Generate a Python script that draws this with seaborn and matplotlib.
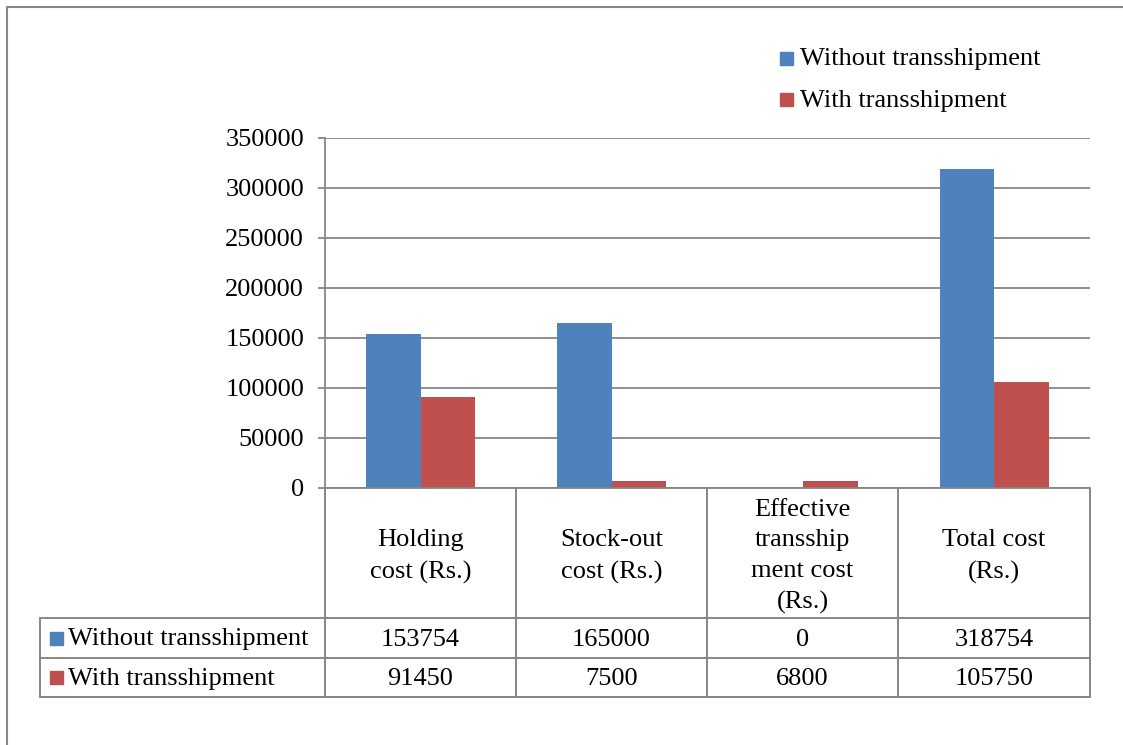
import matplotlib
matplotlib.use("Agg")
import matplotlib.pyplot as plt
import seaborn as sns
import pandas as pd
from matplotlib.lines import Line2D
from matplotlib.patches import Rectangle

# ---- data ----
categories = ["Holding\ncost (Rs.)", "Stock-out\ncost (Rs.)",
              "Effective\ntransship\nment cost\n(Rs.)", "Total cost\n(Rs.)"]
series_names = ["Without transshipment", "With transshipment"]
without_transshipment = [153754, 165000, 0, 318754]
with_transshipment = [91450, 7500, 6800, 105750]
y_ticks = [0, 50000, 100000, 150000, 200000, 250000, 300000, 350000]

colors = ["#4F81BD", "#C0504D"]
grid_color = "#868686"
FONT = "Liberation Serif"
FS = 19

df = pd.DataFrame({
    "category": categories * 2,
    "series": [series_names[0]] * 4 + [series_names[1]] * 4,
    "value": without_transshipment + with_transshipment,
})

sns.set_theme(style="white")
plt.rcParams["font.family"] = [FONT, "DejaVu Sans"]

W, H = 1123, 745
fig = plt.figure(figsize=(W / 100, H / 100), dpi=100)


def fx(x):
    return x / W


def fy(y):
    return 1 - y / H


# overlay working in pixel coordinates for the frame and data table
ov = fig.add_axes([0, 0, 1, 1], zorder=0)
ov.set_xlim(0, W)
ov.set_ylim(H, 0)
ov.axis("off")

# plot area
L, R, T, B = 325, 1090, 138, 488
ax = fig.add_axes([fx(L), fy(B), fx(R) - fx(L), fy(T) - fy(B)], zorder=1)
ax.patch.set_alpha(0)

sns.barplot(data=df, x="category", y="value", hue="series",
            order=categories, hue_order=series_names,
            palette=colors, width=0.57, saturation=1,
            edgecolor="none", linewidth=0, ax=ax, legend=False)

ax.set_xlim(-0.5, 3.5)
ax.set_ylim(0, 350000)
ax.set_yticks(y_ticks)
ax.set_yticklabels([str(v) for v in y_ticks], fontsize=FS, family=FONT)
ax.set_xticks([])
ax.set_xlabel("")
ax.set_ylabel("")
ax.yaxis.grid(True, color=grid_color, linewidth=1.3)
ax.set_axisbelow(True)
for s in ["top", "right"]:
    ax.spines[s].set_visible(False)
for s in ["left", "bottom"]:
    ax.spines[s].set_color(grid_color)
    ax.spines[s].set_linewidth(1.3)
ax.tick_params(axis="y", which="major", length=5, width=1.3,
               color=grid_color, pad=10, left=True, labelcolor="black")

# outer frame (top and left edges)
lc = dict(color=grid_color, linewidth=1.5)
ov.add_line(Line2D([7, W], [7, 7], **lc))
ov.add_line(Line2D([7, 7], [7, H], **lc))

# legend
leg_y = [58, 99]
for i, name in enumerate(series_names):
    ov.add_patch(Rectangle((780, leg_y[i] - 6.5), 13, 13, color=colors[i]))
    ov.text(800, leg_y[i] + 1.5, name, fontsize=FS, family=FONT,
            va="center", ha="left", color="black")

# data table
col_x = [325, 516, 707, 898, 1090]
row_y = [488, 618, 658, 697]
tl = dict(color=grid_color, linewidth=1.4)
for x in col_x:
    ov.add_line(Line2D([x, x], [row_y[0], row_y[-1]], **tl))
ov.add_line(Line2D([40, 40], [row_y[1], row_y[-1]], **tl))
for y in row_y[1:]:
    ov.add_line(Line2D([40, col_x[-1]], [y, y], **tl))

for j, cat in enumerate(categories):
    cx = (col_x[j] + col_x[j + 1]) / 2
    ov.text(cx, (row_y[0] + row_y[1]) / 2 + 3.5, cat, fontsize=FS, family=FONT,
            ha="center", va="center", linespacing=1.52, color="black")

rows = [without_transshipment, with_transshipment]
for i, vals in enumerate(rows):
    cy = (row_y[i + 1] + row_y[i + 2]) / 2
    ov.add_patch(Rectangle((50, cy - 6.5), 13, 13, color=colors[i]))
    ov.text(68, cy + 1.5, series_names[i], fontsize=FS, family=FONT,
            ha="left", va="center", color="black")
    for j, v in enumerate(vals):
        cx = (col_x[j] + col_x[j + 1]) / 2
        ov.text(cx, cy + 1.5, str(v), fontsize=FS, family=FONT,
                ha="center", va="center", color="black")

fig.savefig("out.png", dpi=100, facecolor="white")
